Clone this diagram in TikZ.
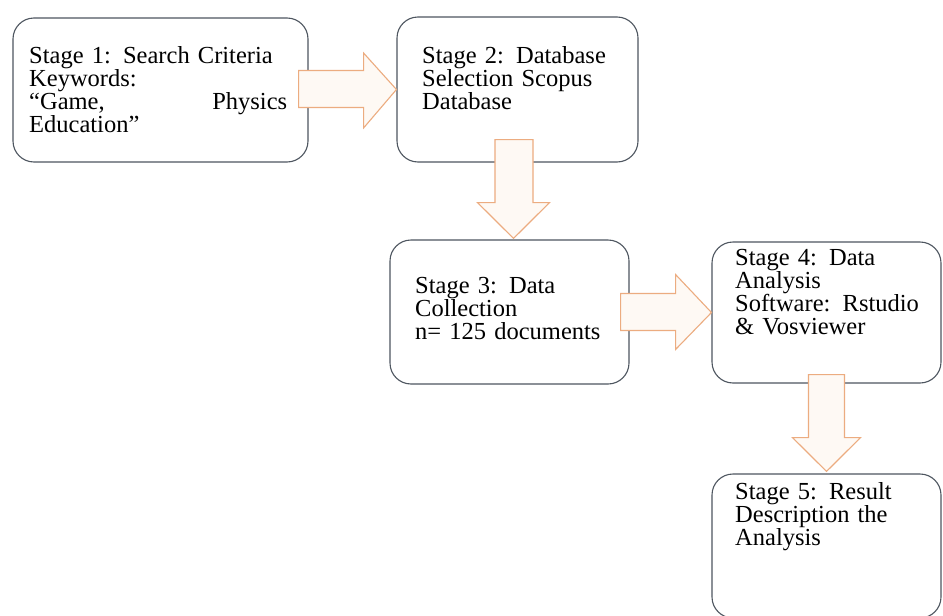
\documentclass[tikz,border=0pt]{standalone}
\usepackage{fontspec}
\setmainfont{Liberation Serif}
\usetikzlibrary{calc}
\definecolor{boxline}{RGB}{78,86,96}
\definecolor{arrline}{RGB}{236,172,128}
\definecolor{arrfill}{RGB}{254,249,244}
\tikzset{
  stagebox/.style={draw=boxline, line width=1.1pt, rounded corners=21pt, fill=white, inner sep=0pt},
  stagetext/.style={anchor=north west, inner sep=0pt, align=left, text=black,
     font=\fontsize{24.5}{23}\selectfont},
  blockarrow/.style={draw=arrline, fill=arrfill, line width=1.1pt, line join=miter}
}
\begin{document}
\begin{tikzpicture}[x=1pt,y=-1pt]
\useasboundingbox (0,0) rectangle (943,616);
\fill[white] (0,0) rectangle (943,616);
% boxes
\node[stagebox, minimum width=295pt, minimum height=144pt] (b1) at (160.5,90) {};
\node[stagebox, minimum width=241pt, minimum height=145pt] (b2) at (517.5,89.5) {};
\node[stagebox, minimum width=239pt, minimum height=144pt] (b3) at (509.5,312) {};
\node[stagebox, minimum width=229pt, minimum height=141pt] (b4) at (826.5,312.5) {};
\node[stagebox, minimum width=229pt, minimum height=144pt] (b5) at (826.5,546) {};
% texts
\node[stagetext, text width=258pt] (t1) at (29,46) {Stage 1: Search Criteria\\ Keywords:\\ \makebox[258pt][s]{“Game,\hfill Physics}\\ Education”};
\node[stagetext, text width=210pt] (t2) at (422,46) {Stage 2: Database\\ Selection Scopus\\ Database};
\node[stagetext, text width=210pt] (t3) at (415,277) {Stage 3: Data\\ Collection\\ n= 125 documents};
\node[stagetext, text width=205pt] (t4) at (735,249) {Stage 4: Data\\ Analysis\\ Software: Rstudio\\ \& Vosviewer};
\node[stagetext, text width=205pt] (t5) at (735,482) {Stage 5: Result\\ Description the\\ Analysis};
% block arrows
\draw[blockarrow] ($(b1.east)+(-10,-19.5)$) -- ($(b1.east)+(55,-19.5)$) -- ($(b1.east)+(55,-37)$)
  -- ($(b2.west)+(0,0)$) -- ($(b1.east)+(55,38)$) -- ($(b1.east)+(55,17.5)$)
  -- ($(b1.east)+(-10,17.5)$) -- cycle;
\draw[blockarrow] ($(b2.south)+(-22.5,-23)$) -- ($(b2.south)+(-22.5,40)$) -- ($(b2.south)+(-40,40)$)
  -- ($(b3.north)+(4,-1)$) -- ($(b2.south)+(32,40)$) -- ($(b2.south)+(15.5,40)$)
  -- ($(b2.south)+(15.5,-23)$) -- cycle;
\draw[blockarrow] ($(b3.east)+(-9,-18.5)$) -- ($(b3.east)+(46,-18.5)$) -- ($(b3.east)+(46,-37.5)$)
  -- (b4.west) -- ($(b3.east)+(46,37.5)$) -- ($(b3.east)+(46,18.5)$)
  -- ($(b3.east)+(-9,18.5)$) -- cycle;
\draw[blockarrow] ($(b4.south)+(-18,-9)$) -- ($(b4.south)+(-18,54)$) -- ($(b4.south)+(-34,54)$)
  -- ($(b5.north)+(0,-2)$) -- ($(b4.south)+(34,54)$) -- ($(b4.south)+(18,54)$)
  -- ($(b4.south)+(18,-9)$) -- cycle;
\end{tikzpicture}
\end{document}
